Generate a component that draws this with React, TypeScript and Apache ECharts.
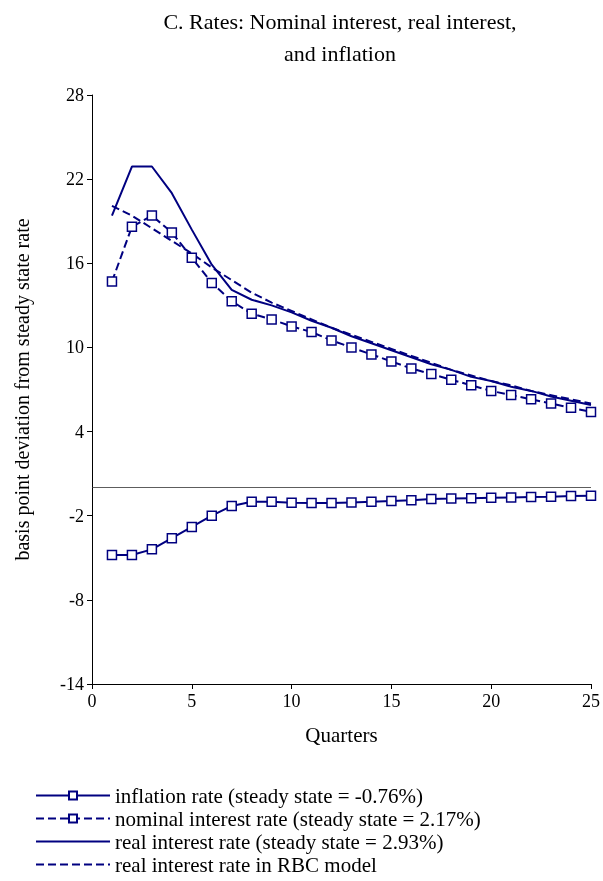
import React, { useEffect, useRef } from "react";
import * as echarts from "echarts";

const quarters = Array.from({ length: 25 }, (_, i) => i + 1);
const inflation = [-4.8, -4.8, -4.4, -3.6, -2.8, -2.0, -1.3, -1.0, -1.0, -1.07, -1.1, -1.1, -1.05, -1.0, -0.95, -0.9, -0.8, -0.78, -0.75, -0.72, -0.7, -0.67, -0.64, -0.6, -0.57];
const nominal = [14.7, 18.6, 19.4, 18.2, 16.4, 14.6, 13.3, 12.4, 12.0, 11.5, 11.1, 10.5, 10.0, 9.5, 9.0, 8.5, 8.1, 7.7, 7.3, 6.9, 6.6, 6.3, 6.0, 5.7, 5.4];
const real = [19.4, 22.9, 22.9, 21.0, 18.4, 15.9, 14.1, 13.4, 13.0, 12.5, 11.9, 11.4, 10.8, 10.3, 9.8, 9.3, 8.8, 8.4, 7.9, 7.6, 7.2, 6.9, 6.5, 6.2, 5.9];
const rbc = [20.1, 19.4, 18.5, 17.6, 16.7, 15.7, 14.8, 13.9, 13.2, 12.6, 12.0, 11.4, 10.9, 10.4, 9.9, 9.4, 8.9, 8.4, 8.0, 7.6, 7.3, 6.9, 6.6, 6.3, 6.0];
const names = [
  "inflation rate (steady state = -0.76%)",
  "nominal interest rate (steady state = 2.17%)",
  "real interest rate (steady state = 2.93%)",
  "real interest rate in RBC model",
];

const C = "#000080";
const F = "Liberation Serif";

export default function App() {
  const ref = useRef<HTMLDivElement>(null);
  useEffect(() => {
    const chart = echarts.init(ref.current!, null, { renderer: "svg" });
    const pts = (arr: number[]) => arr.map((v, i) => [quarters[i], v]);
    chart.setOption({
      animation: false,
      textStyle: { fontFamily: F },
      title: {
        text: "C. Rates: Nominal interest, real interest,\nand inflation",
        left: 335, top: 0, textAlign: "center",
        textStyle: { fontFamily: F, fontSize: 22, fontWeight: "normal", color: "#000", lineHeight: 32 },
      },
      grid: { left: 92, right: 9, top: 95, bottom: 197 },
      xAxis: {
        type: "value", min: 0, max: 25, interval: 5,
        name: "Quarters", nameLocation: "middle", nameGap: 40,
        nameTextStyle: { fontFamily: F, fontSize: 21, color: "#000" },
        axisLine: { onZero: false, lineStyle: { color: "#000" } },
        axisTick: { lineStyle: { color: "#000" } },
        axisLabel: { fontFamily: F, fontSize: 18, color: "#000" },
        splitLine: { show: false },
      },
      yAxis: {
        type: "value", min: -14, max: 28, interval: 6,
        name: "basis point deviation from steady state rate", nameLocation: "middle", nameGap: 60,
        nameTextStyle: { fontFamily: F, fontSize: 20, color: "#000" },
        axisLine: { show: true, lineStyle: { color: "#000" } },
        axisTick: { show: true, lineStyle: { color: "#000" } },
        axisLabel: { fontFamily: F, fontSize: 18, color: "#000" },
        splitLine: { show: false },
      },
      legend: {
        orient: "vertical", left: 30, top: 780, itemGap: 2, itemWidth: 74, itemHeight: 10,
        textStyle: { fontFamily: F, fontSize: 21, color: "#000" },
        data: [
          { name: names[0] },
          { name: names[1] },
          { name: names[2], itemStyle: { opacity: 0 } },
          { name: names[3], itemStyle: { opacity: 0 } },
        ],
      },
      series: [
        {
          name: names[0], type: "line", data: pts(inflation), symbol: "rect", symbolSize: 9,
          itemStyle: { color: "#fff", borderColor: C, borderWidth: 1.5 },
          lineStyle: { color: C, width: 2 },
          markLine: {
            silent: true, symbol: "none", label: { show: false },
            lineStyle: { color: "#333", width: 0.8, type: "solid" },
            data: [{ yAxis: 0 }],
          },
        },
        {
          name: names[1], type: "line", data: pts(nominal), symbol: "rect", symbolSize: 9,
          itemStyle: { color: "#fff", borderColor: C, borderWidth: 1.5 },
          lineStyle: { color: C, width: 2, type: "dashed" },
        },
        {
          name: names[2], type: "line", data: pts(real), symbol: "none",
          itemStyle: { color: C }, lineStyle: { color: C, width: 2 },
        },
        {
          name: names[3], type: "line", data: pts(rbc), symbol: "none",
          itemStyle: { color: C }, lineStyle: { color: C, width: 2, type: "dashed" },
        },
      ],
    });
    return () => chart.dispose();
  }, []);
  return <div ref={ref} style={{ position: "fixed", left: 0, top: 0, width: 603, height: 881 }} />;
}
